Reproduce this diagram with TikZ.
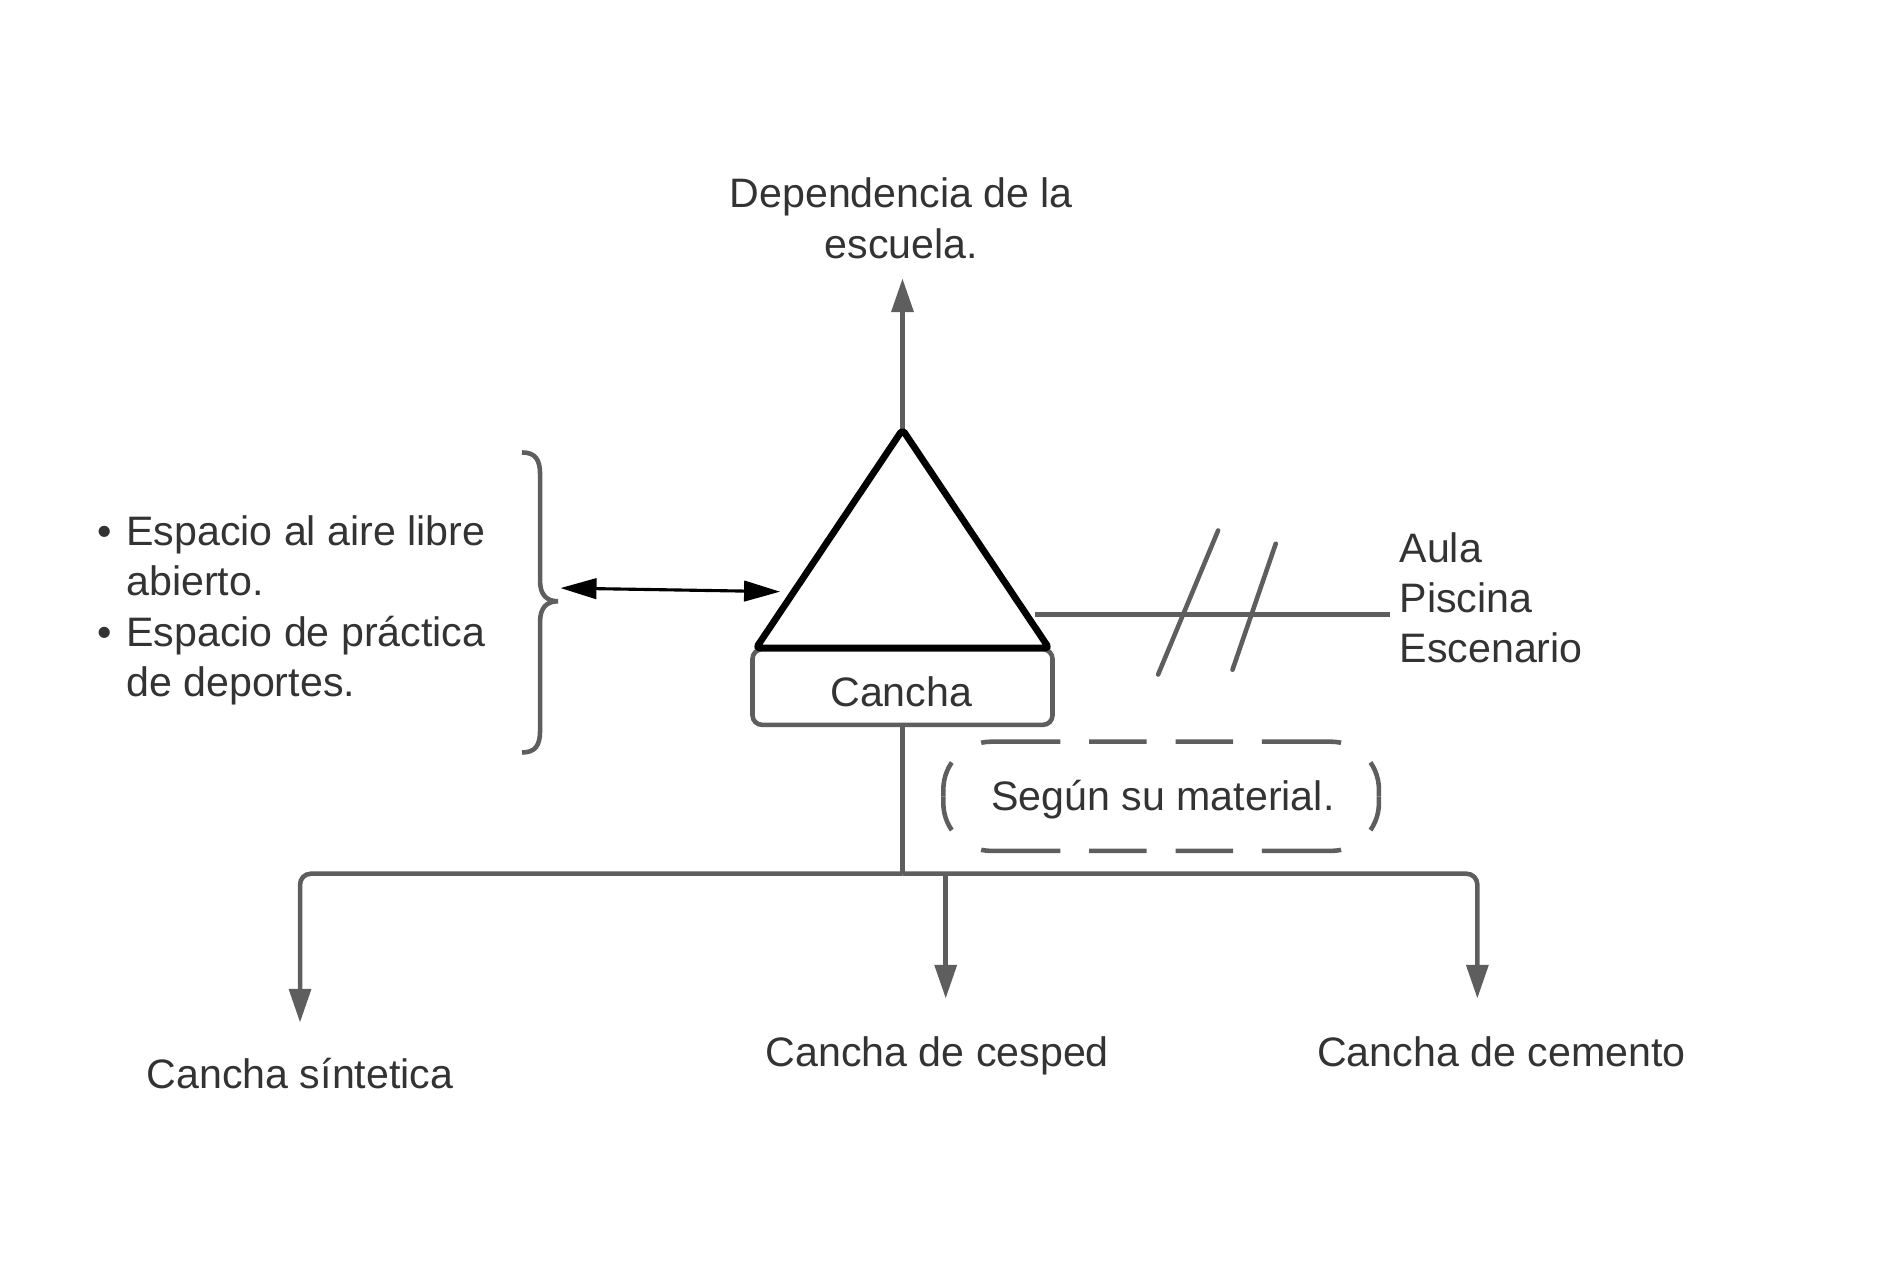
\documentclass[tikz,border=0pt]{standalone}
\usepackage{fontspec}
\setmainfont{Liberation Sans}
\usetikzlibrary{arrows.meta,calc}
\definecolor{ln}{HTML}{5E5E5E}
\definecolor{tx}{HTML}{333333}
\begin{document}
\begin{tikzpicture}[x=1pt,y=-1pt,
  txt/.style={text=tx, font=\fontsize{34.3}{41.7}\selectfont, inner sep=0pt},
  gl/.style={draw=ln, line width=3.8pt},
  garrow/.style={gl, -{Triangle[length=28pt,width=18pt]}},
  barrow/.style={draw=black, line width=2.6pt,
     {Triangle[length=30pt,width=17pt]}-{Triangle[length=30pt,width=17pt]}},
  boxst/.style={draw=ln, line width=3.8pt, rounded corners=8pt,
     minimum width=250pt, minimum height=63pt, inner sep=0pt},
  notedash/.style={gl, rounded corners=40pt,
     dash pattern=on 48pt off 24pt on 66pt off 30.2pt on 200pt off 12pt,
     dash phase=368.2pt},
]
\useasboundingbox (0,0) rectangle (1564,1050);

% top label
\node[txt, align=center, anchor=base] (dep) at (751,215) {Dependencia de la\\escuela.};
\coordinate (deptip) at (752,232);

% box below triangle
\node[boxst] (cancha) at (752,572.5) {};
\node[txt, anchor=base] (canchatxt) at (751,589) {Cancha};

% triangle
\coordinate (apex) at (752,358);
\coordinate (bl) at (630,540);
\coordinate (br) at (874,540);
\draw[garrow] (apex) -- (deptip);
\draw[line width=5.6pt, line join=round, rounded corners=3pt] (apex) -- (bl) -- (br) -- cycle;

% right side
\coordinate (rstart) at (862,512);
\coordinate (rend) at (1158,512);
\draw[gl] (rstart) -- (rend);
\draw[gl, line cap=round] (965,562) -- (1015,442);
\draw[gl, line cap=round] (1027,558) -- (1063,453);
\node[txt, align=left, anchor=base west] (list) at (1166,552) {Aula\\Piscina\\Escenario};

% left side
\node[txt, align=left, anchor=base west] (bul) at (81,580)
  {\makebox[24pt][l]{•}Espacio al aire libre\\\makebox[24pt]{}abierto.\\\makebox[24pt][l]{•}Espacio de práctica\\\makebox[24pt]{}de deportes.};
\draw[gl] (435,377) .. controls (446,377) and (450,383) .. (450,395) -- (450,484)
  .. controls (450,495) and (455,501) .. (465,501)
  .. controls (455,501) and (450,507) .. (450,518) -- (450,609)
  .. controls (450,621) and (446,627) .. (435,627);
\coordinate (bracetip) at (467,490);
\coordinate (triside) at (650,493);
\draw[barrow] (bracetip) -- (triside);

% dashed note
\node[txt, anchor=base] (mat) at (969,675) {Según su material.};
\draw[notedash] (967.5,618) -- (1149,618) -- (1149,663.5);
\draw[notedash] (967.5,709) -- (1149,709) -- (1149,663.5);
\draw[notedash] (967.5,618) -- (786,618) -- (786,663.5);
\draw[notedash] (967.5,709) -- (786,709) -- (786,663.5);

% tree
\coordinate (hub) at (752,728);
\coordinate (sintip) at (250,852);
\coordinate (cesptop) at (788,728);
\coordinate (cesptip) at (788,832);
\coordinate (cemtip) at (1231,832);
\draw[gl] (cancha.south) -- (hub);
\draw[garrow, rounded corners=9pt] (hub) -| (sintip);
\draw[garrow, rounded corners=9pt] (hub) -| (cemtip);
\draw[garrow] (cesptop) -- (cesptip);
\node[txt, anchor=base] (sint) at (250,907) {Cancha síntetica};
\node[txt, anchor=base] (cesp) at (781,889) {Cancha de cesped};
\node[txt, anchor=base] (cem) at (1251,889) {Cancha de cemento};
\end{tikzpicture}
\end{document}
